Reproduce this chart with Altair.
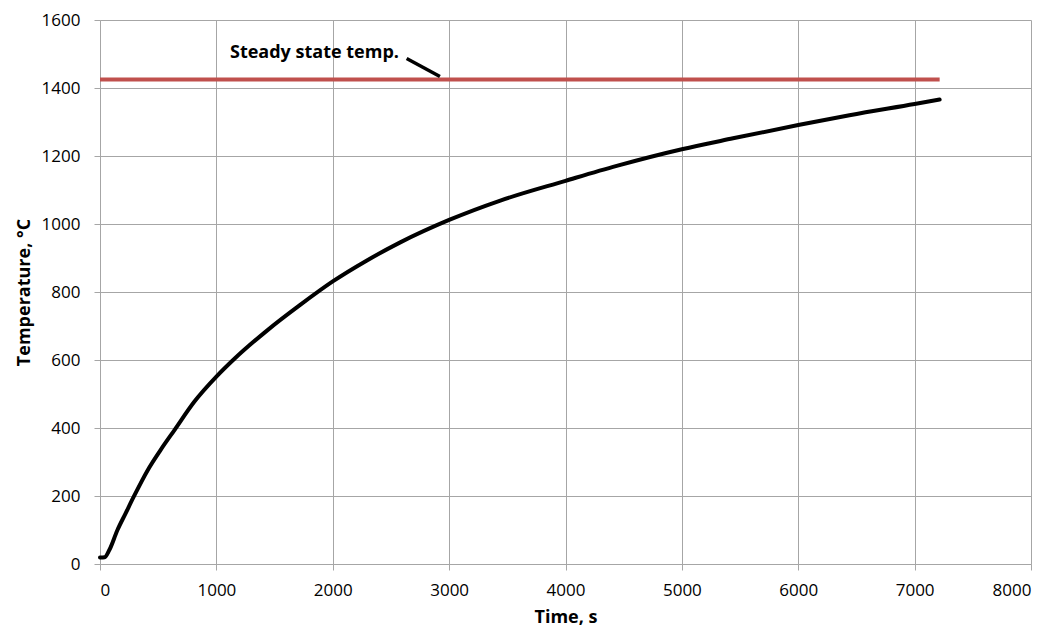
import altair as alt
import pandas as pd

# Transient temperature curve
times = [0, 40, 80, 150, 220, 290, 410, 520, 640, 810, 1000, 1160, 1440, 1720, 2000,
         2290, 2580, 3000, 3440, 4000, 4440, 5000, 5440, 6000, 6440, 7000, 7215]
temps = [19, 20, 41, 100, 149, 198, 276, 335, 394, 477, 551, 605, 688, 762, 831,
         892, 946, 1012, 1069, 1127, 1171, 1220, 1252, 1291, 1320, 1353, 1366]

# Steady state line
steady_times = [0, 7215]
steady_temps = [1425, 1425]

# Annotation
label_text = ["Steady state temp."]
label_time = [1117]
label_temp = [1503]
leader_times = [2635, 2921]
leader_temps = [1487, 1434]

x_ticks = [0, 1000, 2000, 3000, 4000, 5000, 6000, 7000, 8000]
y_ticks = [0, 200, 400, 600, 800, 1000, 1200, 1400, 1600]

FONT = "Open Sans"
GRID = "#a6a6a6"

curve_df = pd.DataFrame({"t": times, "T": temps})
steady_df = pd.DataFrame({"t": steady_times, "T": steady_temps})
label_df = pd.DataFrame({"t": label_time, "T": label_temp, "txt": label_text})
leader_df = pd.DataFrame({"t": leader_times, "T": leader_temps})

xscale = alt.Scale(domain=[0, 8000], nice=False)
yscale = alt.Scale(domain=[0, 1600], nice=False)

xaxis = alt.Axis(values=x_ticks, title="Time, s", grid=True, format="d")
yaxis = alt.Axis(values=y_ticks, title="Temperature, °C", grid=True, format="d")

base_x = alt.X("t:Q", scale=xscale, axis=xaxis)
base_y = alt.Y("T:Q", scale=yscale, axis=yaxis)

curve = alt.Chart(curve_df).mark_line(
    color="black", strokeWidth=4, interpolate="monotone", strokeCap="round"
).encode(x=base_x, y=base_y)

steady = alt.Chart(steady_df).mark_line(
    color="#c0504d", strokeWidth=4
).encode(x=alt.X("t:Q", scale=xscale), y=alt.Y("T:Q", scale=yscale))

leader = alt.Chart(leader_df).mark_line(
    color="black", strokeWidth=3.5
).encode(x=alt.X("t:Q", scale=xscale), y=alt.Y("T:Q", scale=yscale))

label = alt.Chart(label_df).mark_text(
    align="left", baseline="middle", font=FONT, fontSize=18, fontWeight="bold", color="black"
).encode(x=alt.X("t:Q", scale=xscale), y=alt.Y("T:Q", scale=yscale), text="txt:N")

chart = alt.layer(steady, curve, leader, label).properties(
    width=931, height=544,
    autosize=alt.AutoSizeParams(type="none"),
    padding={"left": 92, "top": 12, "right": 10, "bottom": 62},
).configure_view(
    stroke=None
).configure_axis(
    domainColor=GRID, gridColor=GRID, tickColor=GRID, gridWidth=1, domainWidth=1,
    tickSize=6, labelFont=FONT, labelFontSize=17, labelColor="black",
    titleFont=FONT, titleFontSize=18, titleFontWeight="bold", titleColor="black",
).configure_axisX(
    labelPadding=12, titlePadding=10
).configure_axisY(
    labelPadding=14, titlePadding=8
)

chart.save("out.html", embed_options={"renderer": "svg", "actions": False})
